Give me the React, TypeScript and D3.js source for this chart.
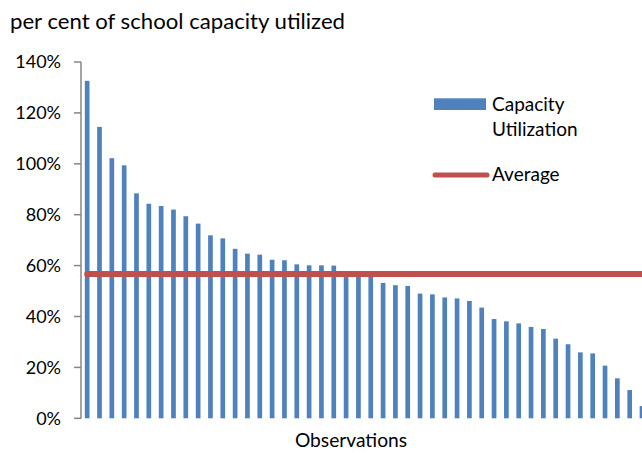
import React from "react";
import * as d3 from "d3";

const observations: number[] = [
  132.6, 114.5, 102.2, 99.4, 88.4, 84.3, 83.4, 82.0, 79.4, 76.5,
  71.9, 70.7, 66.6, 64.7, 64.3, 62.3, 62.1, 60.5, 60.1, 60.1,
  60.0, 57.4, 57.0, 56.8, 53.2, 52.3, 52.0, 49.0, 48.7, 47.5,
  47.1, 46.1, 43.5, 39.0, 38.1, 37.3, 35.9, 35.1, 31.3, 29.1,
  25.9, 25.5, 20.7, 15.7, 11.1, 4.8,
];
const averageValue = 56.7;
const yTicks: number[] = [0, 20, 40, 60, 80, 100, 120, 140];
const titleText = "per cent of school capacity utilized";
const xTitle = "Observations";
const legendLabels = ["Capacity", "Utilization", "Average"];

const BLUE = "#4F81BD";
const RED = "#C0504D";
const AXIS = "#868686";
const FONT = "Lato, 'Open Sans', sans-serif";

export default function App() {
  const W = 642;
  const H = 453;
  const left = 81;
  const step = 12.33;
  const right = left + observations.length * step;
  const y = d3.scaleLinear().domain([0, 140]).range([418.3, 62]);
  const x = d3
    .scaleBand<number>()
    .domain(observations.map((_, i) => i))
    .range([left, right])
    .paddingInner(0.62)
    .paddingOuter(0.31);
  const cx = (i: number) => (x(i) as number) + x.bandwidth() / 2;
  const lineGen = d3
    .line<number>()
    .x((_, i) => cx(i))
    .y(() => y(averageValue));
  const avgPath = lineGen(observations.map(() => averageValue)) || "";

  return (
    <svg
      width={W}
      height={H}
      style={{ position: "absolute", left: 0, top: 0, background: "#fff" }}
      fontFamily={FONT}
    >
      <rect x={0} y={0} width={W} height={H} fill="#fff" />
      <text
        x={10}
        y={28.5}
        fontSize={21}
        fill="#000"
        textLength={335}
        lengthAdjust="spacingAndGlyphs"
      >
        {titleText}
      </text>
      {yTicks.map((t) => (
        <g key={t}>
          <line x1={74} x2={81} y1={y(t)} y2={y(t)} stroke={AXIS} strokeWidth={1.5} />
          <text
            x={61}
            y={y(t)}
            dy="0.36em"
            textAnchor="end"
            fontSize={18}
            fill="#000"
          >
            {t + "%"}
          </text>
        </g>
      ))}
      {observations.map((v, i) => (
        <rect
          key={i}
          x={x(i)}
          y={y(v)}
          width={x.bandwidth()}
          height={y(0) - y(v)}
          fill={BLUE}
        />
      ))}
      <line x1={81} x2={81} y1={62} y2={418.5} stroke={AXIS} strokeWidth={1.5} />
      <path
        d={avgPath}
        fill="none"
        stroke={RED}
        strokeWidth={6}
        strokeLinecap="round"
      />
      <text x={351} y={446.5} textAnchor="middle" fontSize={19.2} fill="#000">
        {xTitle}
      </text>
      <rect x={434} y={98.3} width={52} height={11.7} fill={BLUE} />
      <text x={492} y={110.5} fontSize={19} fill="#000">
        {legendLabels[0]}
      </text>
      <text x={492} y={136} fontSize={19} fill="#000">
        {legendLabels[1]}
      </text>
      <line
        x1={435}
        x2={487}
        y1={175}
        y2={175}
        stroke={RED}
        strokeWidth={5}
        strokeLinecap="round"
      />
      <text x={492} y={181} fontSize={19} fill="#000">
        {legendLabels[2]}
      </text>
    </svg>
  );
}
